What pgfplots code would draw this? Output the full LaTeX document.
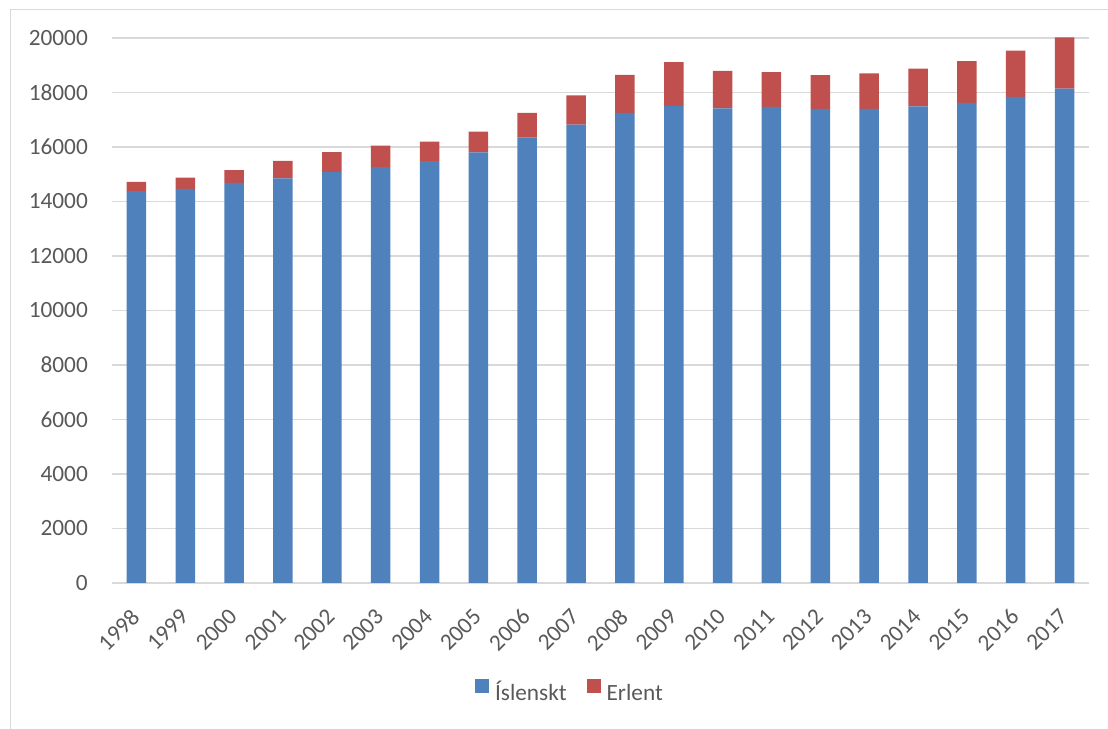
\documentclass[border=0pt]{standalone}
\usepackage{pgfplots}
\pgfplotsset{compat=1.18}
\usepackage{pgfplotstable}
\usepackage{fontspec}
\setmainfont{Carlito}
\definecolor{blu}{HTML}{4F81BD}
\definecolor{rd}{HTML}{C0504D}
\definecolor{grd}{HTML}{D9D9D9}
\definecolor{txt}{HTML}{595959}
\pgfplotstableread{
x year isl erl
0 1998 14380 340
1 1999 14460 420
2 2000 14680 475
3 2001 14850 640
4 2002 15080 735
5 2003 15265 785
6 2004 15485 710
7 2005 15800 760
8 2006 16340 910
9 2007 16820 1075
10 2008 17250 1400
11 2009 17505 1605
12 2010 17420 1375
13 2011 17470 1275
14 2012 17400 1235
15 2013 17400 1305
16 2014 17495 1385
17 2015 17620 1530
18 2016 17840 1700
19 2017 18145 1875
}\data
\newcommand{\cf}{\fontsize{23.3bp}{28bp}\selectfont}
\begin{document}
\begin{tikzpicture}
\clip (0,0) rectangle (1108bp,729bp);
\draw[grd, line width=1.5bp] (10.5bp,-5bp) -- (10.5bp,719.5bp) -- (1120bp,719.5bp);
\begin{axis}[
  at={(112bp,146bp)}, anchor=south west,
  scale only axis, width=977bp, height=545bp,
  ybar stacked, bar width=19.5bp,
  xmin=-0.5, xmax=19.5, ymin=0, ymax=20000,
  xtick=data, xticklabels from table={\data}{year},
  ytick={0,2000,...,20000},
  ymajorgrids, grid style={grd, line width=1.3bp},
  axis x line*=bottom, axis y line*=left,
  axis line style={draw=none},
  major tick length=0pt,
  scaled y ticks=false,
  /pgf/number format/1000 sep={},
  /pgf/number format/assume math mode=true,
  tick label style={font=\cf, text=txt},
  yticklabel style={anchor=east, inner sep=0pt, xshift=-24bp},
  xticklabel style={yshift=-30bp, xshift=-1bp, rotate=45, anchor=east, inner sep=0pt},
  legend style={at={(0.3716,-0.2165)}, anchor=south west, draw=none, fill=none,
    inner sep=0pt, outer sep=0pt, font=\cf, text=txt,
    nodes={inner sep=0pt, text height=15bp, text depth=0pt},
    /tikz/every odd column/.style={column sep=6bp},
    /tikz/every even column/.style={column sep=20bp}},
  legend columns=2,
  legend cell align=left,
]
\addplot[fill=blu, draw=none, legend image code/.code={\fill[blu] (0bp,0bp) rectangle (14bp,14bp);}] table[x=x, y=isl] {\data};
\addplot[fill=rd, draw=none, legend image code/.code={\fill[rd] (0bp,0bp) rectangle (14bp,14bp);}] table[x=x, y=erl] {\data};
\legend{Íslenskt, Erlent}
\end{axis}
\end{tikzpicture}
\end{document}
